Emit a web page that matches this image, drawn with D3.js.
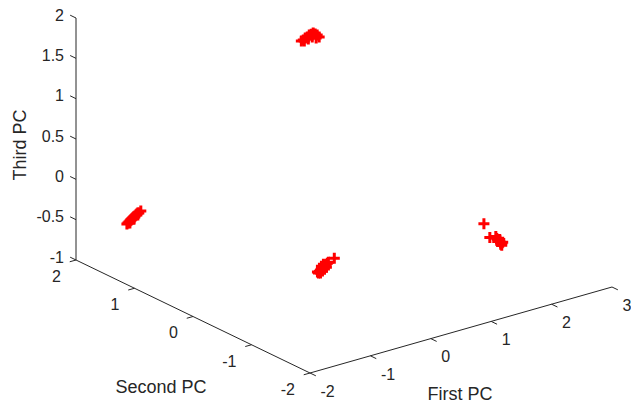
<!DOCTYPE html>
<html>
<head>
<meta charset="utf-8">
<script src="https://cdn.jsdelivr.net/npm/d3@7/dist/d3.min.js"></script>
<style>
  html, body { margin: 0; padding: 0; background: #fff; }
  svg { display: block; }
  text { font-family: "Liberation Sans", Arial, Helvetica, sans-serif; fill: #262626; }
</style>
</head>
<body>
<svg id="chart" width="631" height="404"></svg>
<script>
// ---------------- DATA ----------------
const axisTitles = ["First PC", "Second PC", "Third PC"];
const xTicks = [-2, -1, 0, 1, 2, 3];
const yTicks = [-2, -1, 0, 1, 2];
const zTicks = [-1, -0.5, 0, 0.5, 1, 1.5, 2];
const xTickLabels = ["-2", "-1", "0", "1", "2", "3"];
const yTickLabels = ["-2", "-1", "0", "1", "2"];
const zTickLabels = ["-1", "-0.5", "0", "0.5", "1", "1.5", "2"];

// group 1 (top)
const pc1A = [0.157, 0.189, 0.222, 0.255, 0.288, 0.321, 0.353, 0.386, 0.419, 0.452, 0.272, 0.337, 0.402, 0.206];
const pc2A = [0.375, 0.375, 0.375, 0.375, 0.375, 0.375, 0.375, 0.375, 0.375, 0.375, 0.375, 0.375, 0.375, 0.375];
const pc3A = [1.823, 1.829, 1.846, 1.852, 1.869, 1.874, 1.880, 1.861, 1.842, 1.810, 1.824, 1.834, 1.809, 1.813];
// group 2 (left)
const pc1B = [-1.283, -1.266, -1.250, -1.234, -1.217, -1.201, -1.184, -1.168, -1.152, -1.135, -1.119, -1.103, -1.086, -1.053, -1.234, -1.168];
const pc2B = [1.87, 1.87, 1.87, 1.87, 1.87, 1.87, 1.87, 1.87, 1.87, 1.87, 1.87, 1.87, 1.87, 1.87, 1.87, 1.87];
const pc3B = [-0.661, -0.652, -0.643, -0.634, -0.626, -0.617, -0.608, -0.599, -0.590, -0.582, -0.573, -0.564, -0.568, -0.550, -0.659, -0.624];
// group 3 (bottom middle)
const pc1C = [-0.368, -0.352, -0.335, -0.319, -0.302, -0.286, -0.270, -0.253, -0.237, -0.221, -0.204, -0.106, -0.335, -0.302, -0.270, -0.237, -0.319, -0.286, -0.385];
const pc2C = [-0.46, -0.46, -0.46, -0.46, -0.46, -0.46, -0.46, -0.46, -0.46, -0.46, -0.46, -0.46, -0.46, -0.46, -0.46, -0.46, -0.46, -0.46, -0.46];
const pc3C = [-0.649, -0.628, -0.619, -0.610, -0.602, -0.593, -0.584, -0.575, -0.566, -0.558, -0.549, -0.521, -0.656, -0.638, -0.620, -0.603, -0.574, -0.556, -0.633];
// group 4 (right)
const pc1D = [1.722, 1.820, 1.919, 1.935, 1.951, 1.968, 1.984, 2.000, 2.017, 1.984, 1.951, 2.017, 2.000, 2.033];
const pc2D = [-1.13, -1.13, -1.13, -1.13, -1.13, -1.13, -1.13, -1.13, -1.13, -1.13, -1.13, -1.13, -1.13, -1.13];
const pc3D = [-0.249, -0.440, -0.448, -0.476, -0.492, -0.507, -0.523, -0.539, -0.554, -0.499, -0.516, -0.579, -0.563, -0.545];

// ---------------- LAYOUT ----------------
const W = 631, H = 404;
const axisColor = "#262626";
const markerColor = "#ff0000";
const corner = [310, 373];     // (x=-2, y=-2, z=-1)
const xEnd   = [612, 287];     // (x=3,  y=-2, z=-1)
const yEnd   = [76, 260];      // (x=-2, y=2,  z=-1)
const zLen   = 242;            // pixel height of z axis

const xS = d3.scaleLinear().domain([-2, 3]).range([0, 1]);
const yS = d3.scaleLinear().domain([-2, 2]).range([0, 1]);
const zS = d3.scaleLinear().domain([-1, 2]).range([0, -zLen]);

const vX = [xEnd[0] - corner[0], xEnd[1] - corner[1]];
const vY = [yEnd[0] - corner[0], yEnd[1] - corner[1]];

function proj(x, y, z) {
  const tx = xS(x), ty = yS(y);
  return [corner[0] + tx * vX[0] + ty * vY[0],
          corner[1] + tx * vX[1] + ty * vY[1] + zS(z)];
}
function unit(v) { const l = Math.hypot(v[0], v[1]); return [v[0] / l, v[1] / l]; }
const uX = unit(vX), uY = unit(vY);
const tickLen = 6.5;

const svg = d3.select("#chart");
svg.append("rect").attr("width", W).attr("height", H).attr("fill", "#fff");

const gAxes = svg.append("g").attr("stroke", axisColor).attr("stroke-width", 1).attr("fill", "none");

function line(p, q) {
  gAxes.append("line").attr("x1", p[0]).attr("y1", p[1]).attr("x2", q[0]).attr("y2", q[1]);
}

// axis lines
line(proj(-2, -2, -1), proj(3, -2, -1));   // X
line(proj(-2, -2, -1), proj(-2, 2, -1));   // Y
line(proj(-2, 2, -1), proj(-2, 2, 2));     // Z

const gText = svg.append("g");
const tickFont = 16, labelFont = 18;

// X ticks: direction -Y
xTicks.forEach((t, i) => {
  const p = proj(t, -2, -1);
  const q = [p[0] - uY[0] * tickLen, p[1] - uY[1] * tickLen];
  line(p, q);
  gText.append("text").attr("x", p[0] + 10.5).attr("y", p[1] + 18)
    .attr("dy", "0.36em").attr("font-size", tickFont).attr("text-anchor", "start")
    .text(xTickLabels[i]);
});

// Y ticks: direction -X
yTicks.forEach((t, i) => {
  const p = proj(-2, t, -1);
  const q = [p[0] - uX[0] * tickLen, p[1] - uX[1] * tickLen];
  line(p, q);
  gText.append("text").attr("x", p[0] - 15).attr("y", p[1] + 16)
    .attr("dy", "0.36em").attr("font-size", tickFont).attr("text-anchor", "end")
    .text(yTickLabels[i]);
});

// Z ticks: direction +Y
zTicks.forEach((t, i) => {
  const p = proj(-2, 2, t);
  const q = [p[0] + uY[0] * tickLen, p[1] + uY[1] * tickLen];
  line(p, q);
  gText.append("text").attr("x", 64).attr("y", p[1] - 3)
    .attr("dy", "0.36em").attr("font-size", tickFont).attr("text-anchor", "end")
    .text(zTickLabels[i]);
});

// axis titles
gText.append("text").attr("x", 460).attr("y", 400).attr("font-size", labelFont)
  .attr("text-anchor", "middle").text(axisTitles[0]);
gText.append("text").attr("x", 161).attr("y", 393).attr("font-size", labelFont)
  .attr("text-anchor", "middle").text(axisTitles[1]);
gText.append("text").attr("transform", "translate(26,145) rotate(-90)").attr("font-size", labelFont)
  .attr("text-anchor", "middle").text(axisTitles[2]);

// points
const groups = [[pc1A, pc2A, pc3A], [pc1B, pc2B, pc3B], [pc1C, pc2C, pc3C], [pc1D, pc2D, pc3D]];
const pts = [];
groups.forEach(g => g[0].forEach((x, i) => pts.push(proj(x, g[1][i], g[2][i]))));

const arm = 5.5;
svg.append("g").attr("stroke", markerColor).attr("stroke-width", 3).attr("fill", "none")
  .selectAll("path").data(pts).join("path")
  .attr("d", d => `M${d[0] - arm},${d[1]}H${d[0] + arm}M${d[0]},${d[1] - arm}V${d[1] + arm}`);
</script>
</body>
</html>
